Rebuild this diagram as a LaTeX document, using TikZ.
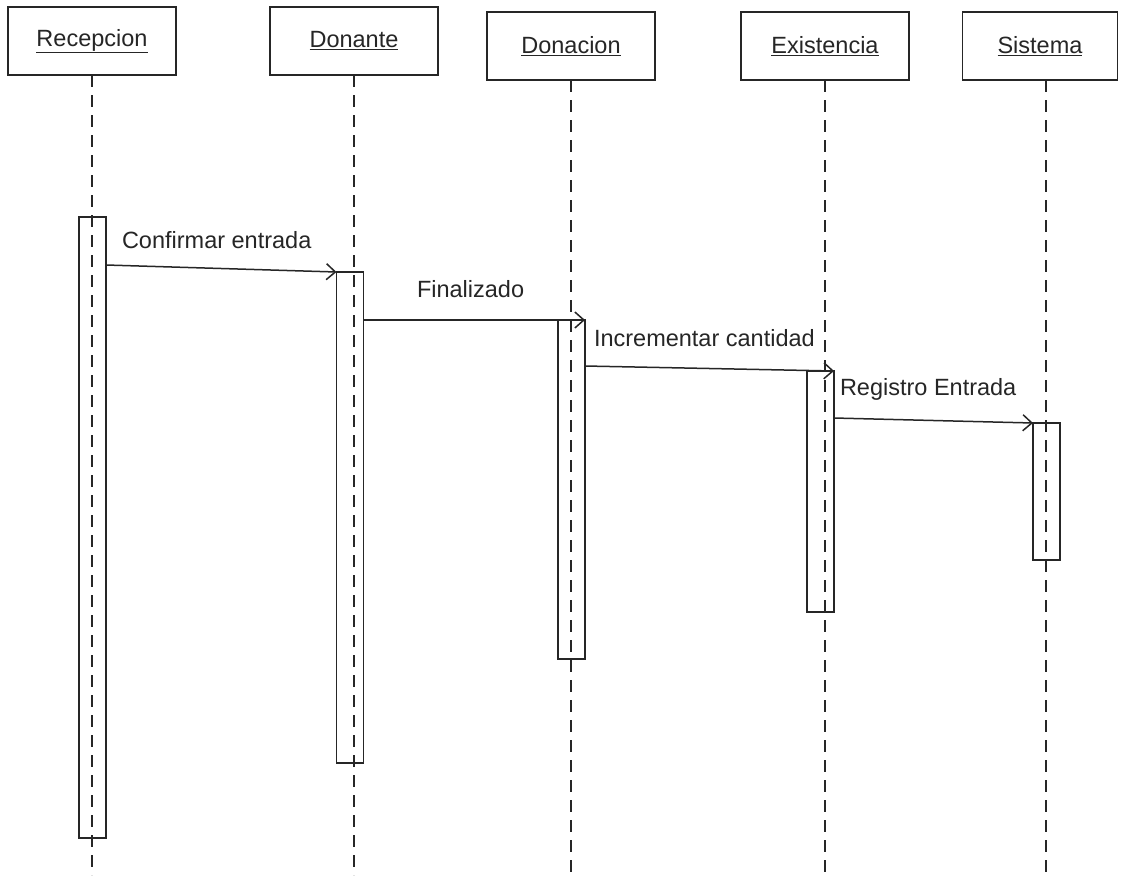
\documentclass[tikz,border=0pt]{standalone}
\usepackage{fontspec}
\setmainfont{Liberation Sans}
\usetikzlibrary{arrows.meta}
\definecolor{ink}{HTML}{262626}
\begin{document}
\begin{tikzpicture}[x=1pt,y=-1pt,
  every node/.style={inner sep=0pt,outer sep=0pt},
  objbox/.style={draw=ink,line width=1.8pt,minimum width=168pt,minimum height=68pt,
    font=\fontsize{23.5}{26}\selectfont,text=ink},
  actbox/.style={draw=ink,line width=1.8pt,minimum width=27pt,anchor=north},
  lifeline/.style={draw=ink,line width=2pt,dash pattern=on 12pt off 8pt},
  msg/.style={draw=ink,line width=1.5pt,-{Straight Barb[length=9pt,width=16pt,line width=1.5pt]}},
  msglabel/.style={anchor=west,font=\fontsize{23.5}{26}\selectfont,text=ink}]
\path[fill=white] (0,0) rectangle (1123,875);
\useasboundingbox (0,0) rectangle (1123,875);

% object headers
\node[objbox] (h1) at (92,41)   {\underline{Recepcion}};
\node[objbox] (h2) at (354,41)  {\underline{Donante}};
\node[objbox] (h3) at (571,46)  {\underline{Donacion}};
\node[objbox] (h4) at (825,46)  {\underline{Existencia}};
\node[objbox,minimum width=155pt] (h5) at (1040,46) {\underline{Sistema}};

% lifeline ends
\coordinate (e1) at (92,875);
\coordinate (e2) at (354,875);
\coordinate (e3) at (571,875);
\coordinate (e4) at (825,875);
\coordinate (e5) at (1046,875);

\draw[lifeline] (h1.south) -- (e1);
\draw[lifeline] (h2.south) -- (e2);
\draw[lifeline] (h3.south) -- (e3);
\draw[lifeline] (h4.south) -- (e4);
\draw[lifeline] (h5.south -| e5) -- (e5);

% activation bars
\node[actbox,minimum height=621pt] (a1) at (92.5,217) {};
\node[actbox,minimum height=491pt] (a2) at (350,272) {};
\node[actbox,minimum height=339pt] (a3) at (571.5,320) {};
\node[actbox,minimum height=241pt] (a4) at (820.5,371) {};
\node[actbox,minimum height=137pt] (a5) at (1046.5,423) {};

% messages
\draw[msg] ([yshift=-48pt]a1.north east) -- (a2.north west);
\draw[msg] ([yshift=-48pt]a2.north east) -- (a3.north east);
\draw[msg] ([yshift=-46pt]a3.north east) -- (a4.north east);
\draw[msg] ([yshift=-47pt]a4.north east) -- (a5.north west);

\node[msglabel] (l1) at (122,240) {Confirmar entrada};
\node[msglabel] (l2) at (417,289) {Finalizado};
\node[msglabel] (l3) at (594,338) {Incrementar cantidad};
\node[msglabel] (l4) at (840,389) {Registro Entrada};
\end{tikzpicture}
\end{document}
